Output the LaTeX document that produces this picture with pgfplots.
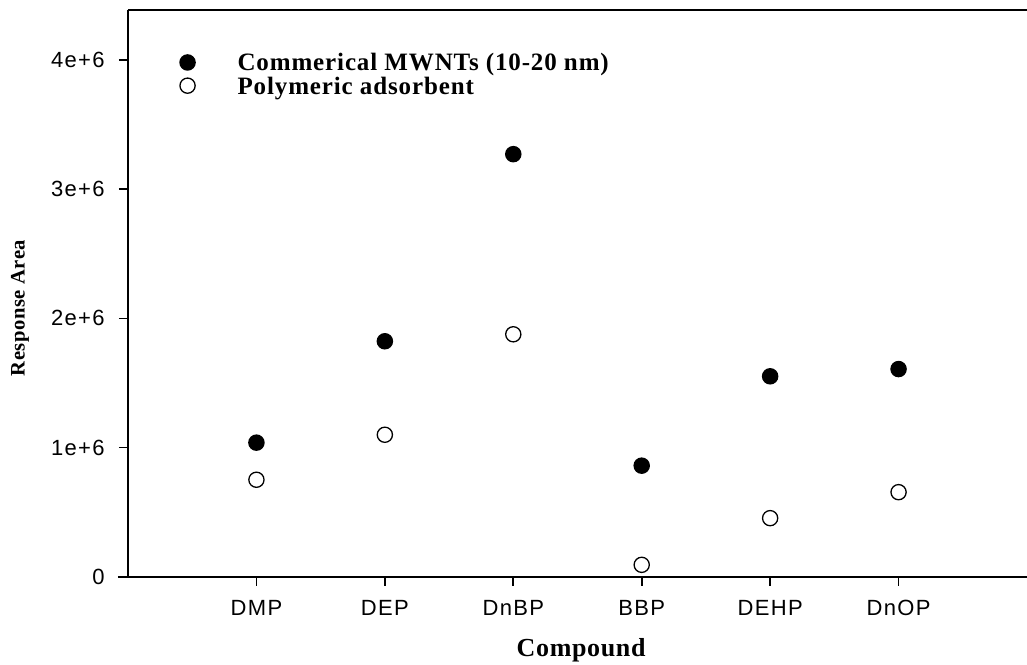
\documentclass[border=0pt]{standalone}
\usepackage{fontspec}
\usepackage{pgfplots}
\pgfplotsset{compat=1.18}
\setmainfont{Liberation Serif}
\newfontfamily\lblfont[LetterSpace=2.5]{Liberation Serif}
\newfontfamily\lgdfont[LetterSpace=3.5]{Liberation Serif}
\newfontfamily\tickfont[LetterSpace=6]{Liberation Sans}

\begin{document}
\begin{tikzpicture}
\begin{axis}[
  scale only axis,
  width=449.5pt, height=283.5pt,
  xmin=0, xmax=7,
  ymin=0, ymax=4.385e6,
  axis x line=bottom, axis y line=left,
  axis line style={line width=0.8pt, -},
  tick style={line width=0.8pt, black},
  tick align=outside,
  major tick length=4.5pt,
  xtick={1,2,3,4,5,6},
  xticklabels={DMP,DEP,DnBP,BBP,DEHP,DnOP},
  ytick={0,1e6,2e6,3e6,4e6},
  yticklabels={0,1e+6,2e+6,3e+6,4e+6},
  scaled y ticks=false,
  xticklabel style={font=\tickfont\fontsize{11}{13}\selectfont, anchor=base, yshift=-15pt},
  yticklabel style={font=\tickfont\fontsize{11}{13}\selectfont, anchor=east, inner sep=0pt, xshift=-7pt},
  clip=false,
  legend style={draw=none, fill=none, at={(rel axis cs:0.0578,0.887)}, anchor=west,
    inner sep=0pt, outer sep=0pt, row sep=0pt,
    font=\lgdfont\bfseries\fontsize{12.5}{14}\selectfont,
    nodes={inner xsep=3pt, inner ysep=0pt, text height=10pt, text depth=1.6pt}},
  legend cell align=left,
  legend image code/.code={\path[draw=none] (0pt,0pt) -- (22pt,0pt); \draw[#1, only marks] plot coordinates {(0pt,0pt)};},
]
\addplot[only marks, mark=*, mark size=3.8pt, mark options={fill=black, draw=black, line width=0.65pt}]
  coordinates {(1,1.039e6) (2,1.823e6) (3,3.27e6) (4,0.861e6) (5,1.552e6) (6,1.608e6)};
\addlegendentry{Commerical MWNTs (10-20 nm)}
\addplot[only marks, mark=o, mark size=3.8pt, mark options={fill=white, draw=black, line width=0.65pt}]
  coordinates {(1,0.752e6) (2,1.10e6) (3,1.877e6) (4,0.094e6) (5,0.455e6) (6,0.656e6)};
\addlegendentry{Polymeric adsorbent}

% frame pieces: top rule and the short overhang of the bottom axis
\draw[line width=0.8pt] (rel axis cs:0,1) -- (rel axis cs:1,1);
\draw[line width=0.8pt] ([xshift=-5pt]rel axis cs:0,0) -- (rel axis cs:0,0);

\node[font=\lblfont\bfseries\fontsize{13}{15}\selectfont, anchor=base] at (rel axis cs:0.504,-0.1411) {Compound};
\node[font=\lblfont\bfseries\fontsize{10.3}{12}\selectfont, rotate=90, anchor=center] at (rel axis cs:-0.1202,0.4744) {Response Area};

\coordinate (bl) at (rel axis cs:0,0);
\coordinate (tr) at (rel axis cs:1,1);
\end{axis}
\pgfresetboundingbox
\path ([xshift=-64pt,yshift=-44pt]bl) rectangle ([yshift=5pt]tr);
\end{tikzpicture}
\end{document}
